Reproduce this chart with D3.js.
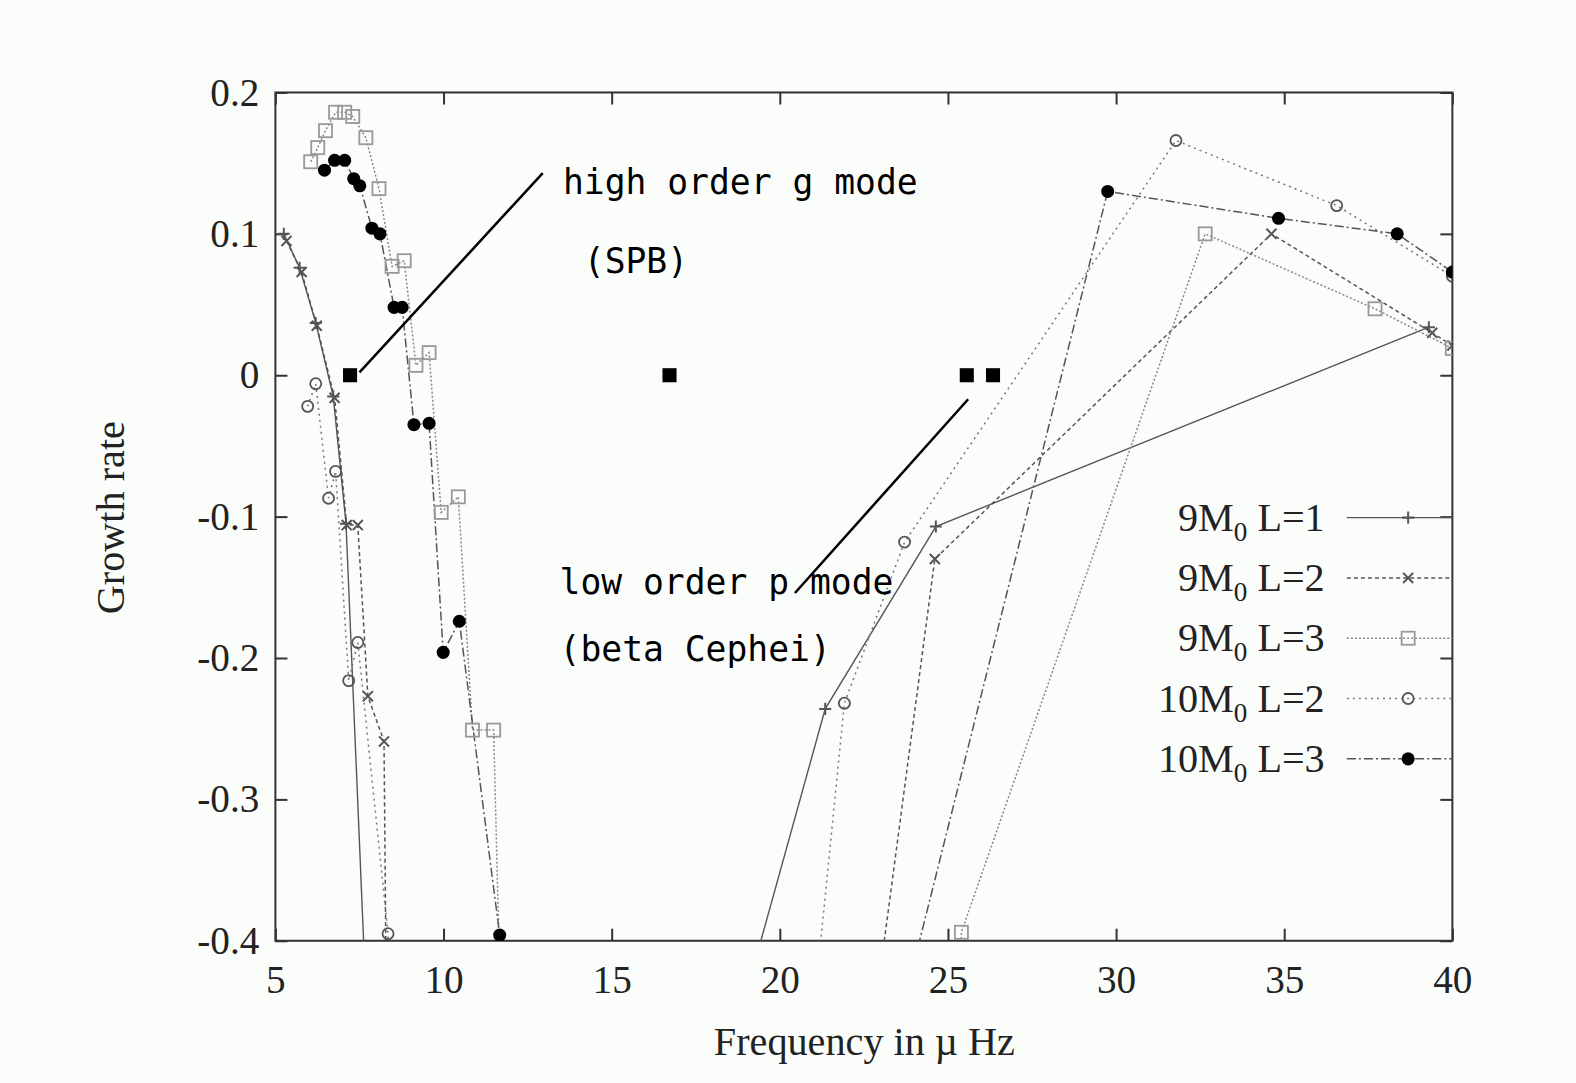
<!DOCTYPE html>
<html>
<head>
<meta charset="utf-8">
<script src="https://cdn.jsdelivr.net/npm/d3@7/dist/d3.min.js"></script>
<style>
  html, body { margin: 0; padding: 0; background: #fbfdfb; }
  svg { display: block; }
</style>
</head>
<body>
<svg id="chart" width="1576" height="1083"></svg>
<script>
// ---- data (frequency in µHz, growth rate) ----
const xTicks = [5, 10, 15, 20, 25, 30, 35, 40];
const yTicks = [-0.4, -0.3, -0.2, -0.1, 0, 0.1, 0.2];
const yTickLabels = ["-0.4", "-0.3", "-0.2", "-0.1", "0", "0.1", "0.2"];

const seriesNames = ["9M", "9M", "9M", "10M", "10M"];
const seriesL = ["1", "2", "3", "2", "3"];

const m9L1 = [[5.25,0.100],[5.72,0.076],[6.20,0.037],[6.72,-0.015],[7.10,-0.105],[7.80,-0.5],
              [18.27,-0.5],[21.35,-0.236],[24.64,-0.107],[39.30,0.034]];
const m9L2 = [[5.33,0.095],[5.78,0.073],[6.23,0.035],[6.76,-0.016],[7.12,-0.106],[7.45,-0.106],
              [7.75,-0.227],[8.23,-0.259],[8.32,-0.5],
              [22.55,-0.5],[24.61,-0.130],[34.62,0.100],[39.40,0.030],[40.0,0.021]];
const m9L3 = [[6.05,0.151],[6.26,0.161],[6.49,0.173],[6.79,0.186],[7.06,0.186],[7.30,0.183],
              [7.69,0.168],[8.08,0.132],[8.47,0.077],[8.83,0.081],[9.18,0.007],[9.57,0.016],
              [9.93,-0.097],[10.44,-0.086],[10.86,-0.251],[11.49,-0.251],[11.75,-0.5],
              [25.20,-0.5],[25.40,-0.394],[32.65,0.100],[37.70,0.047],[40.0,0.019]];
const m10L2 = [[5.96,-0.022],[6.20,-0.006],[6.58,-0.087],[6.79,-0.068],[7.18,-0.216],[7.45,-0.189],
               [8.35,-0.395],[8.50,-0.5],
               [20.80,-0.5],[21.92,-0.232],[23.71,-0.118],[31.78,0.166],[36.56,0.120],[40.0,0.070]];
const m10L3 = [[6.46,0.145],[6.76,0.152],[7.06,0.152],[7.33,0.139],[7.51,0.134],[7.87,0.104],
               [8.11,0.100],[8.53,0.048],[8.77,0.048],[9.12,-0.035],[9.57,-0.034],[9.99,-0.196],
               [10.47,-0.174],[11.67,-0.396],[11.80,-0.5],
               [23.10,-0.5],[29.75,0.130],[34.83,0.111],[38.36,0.100],[40.0,0.073]];
const zeroMarks = [[7.22,0],[16.72,0],[25.56,0],[26.34,0]];

const annotations = [
  {lines: ["high order g mode", " (SPB)"], tx: 13.55, ty: 0.128, dy: 0.056, from: [7.5, 0.002], to: [12.95, 0.143]},
  {lines: ["low order p mode", "(beta Cephei)"], tx: 13.45, ty: -0.155, dy: 0.047, from: [20.45, -0.154], to: [25.6, -0.017]}
];

// ---- layout ----
const root = d3.select("#chart").append("g").attr("transform", "scale(1.0051)");
const L = 274, R = 1445, T = 92, B = 936;
const x = d3.scaleLinear().domain([5, 40]).range([L, R]);
const y = d3.scaleLinear().domain([-0.4, 0.2]).range([B, T]);

root.append("defs").append("clipPath").attr("id", "clip")
  .append("rect").attr("x", L).attr("y", T).attr("width", R - L).attr("height", B - T);

const serif = "'Liberation Serif', 'Times New Roman', serif";
const mono = "'DejaVu Sans Mono', monospace";

// axes (inward ticks, mirrored)
const axL = root.append("g").attr("transform", `translate(${L},0)`)
  .call(d3.axisLeft(y).tickValues(yTicks).tickFormat((d, i) => yTickLabels[i]).tickSize(-12).tickSizeOuter(0).tickPadding(16));
const axR = root.append("g").attr("transform", `translate(${R},0)`)
  .call(d3.axisRight(y).tickValues(yTicks).tickFormat("").tickSize(-12).tickSizeOuter(0));
const axB = root.append("g").attr("transform", `translate(0,${B})`)
  .call(d3.axisBottom(x).tickValues(xTicks).tickFormat(d3.format("d")).tickSize(-12).tickSizeOuter(0).tickPadding(24));
const axT = root.append("g").attr("transform", `translate(0,${T})`)
  .call(d3.axisTop(x).tickValues(xTicks).tickFormat("").tickSize(-12).tickSizeOuter(0));
[axL, axR, axB, axT].forEach(a => {
  a.select(".domain").remove();
  a.selectAll(".tick line").attr("stroke", "#333").attr("stroke-width", 2);
  a.selectAll("text").attr("font-family", serif).attr("font-size", 39).attr("fill", "#222");
});

// frame
root.append("rect").attr("x", L).attr("y", T).attr("width", R - L).attr("height", B - T)
  .attr("fill", "none").attr("stroke", "#333").attr("stroke-width", 2);

// axis titles
root.append("text").attr("x", 860).attr("y", 1050).attr("text-anchor", "middle")
  .attr("font-family", serif).attr("font-size", 40).attr("fill", "#222").text("Frequency in µ Hz");
root.append("text").attr("transform", "translate(123,515) rotate(-90)").attr("text-anchor", "middle")
  .attr("font-family", serif).attr("font-size", 40).attr("fill", "#222").text("Growth rate");

// series
const styles = [
  {data: m9L1, color: "#555", width: 1.4, dash: null, marker: "plus"},
  {data: m9L2, color: "#555", width: 1.5, dash: "4,3", marker: "cross"},
  {data: m9L3, color: "#888", width: 1.5, dash: "2,2", marker: "square"},
  {data: m10L2, color: "#777", width: 1.5, dash: "2,4", marker: "circle"},
  {data: m10L3, color: "#555", width: 1.5, dash: "9,3,2,3", marker: "dot"}
];

const plot = root.append("g").attr("clip-path", "url(#clip)");
const line = d3.line().x(d => x(d[0])).y(d => y(d[1]));

function drawMarker(g, type, cx, cy, color) {
  if (type === "plus") {
    g.append("path").attr("d", `M${cx-6},${cy}H${cx+6}M${cx},${cy-6}V${cy+6}`)
      .attr("stroke", color).attr("stroke-width", 2);
  } else if (type === "cross") {
    g.append("path").attr("d", `M${cx-5},${cy-5}L${cx+5},${cy+5}M${cx-5},${cy+5}L${cx+5},${cy-5}`)
      .attr("stroke", color).attr("stroke-width", 2);
  } else if (type === "square") {
    g.append("rect").attr("x", cx - 6.5).attr("y", cy - 6.5).attr("width", 13).attr("height", 13)
      .attr("fill", "none").attr("stroke", color).attr("stroke-width", 1.8);
  } else if (type === "circle") {
    g.append("circle").attr("cx", cx).attr("cy", cy).attr("r", 5.5)
      .attr("fill", "none").attr("stroke", color).attr("stroke-width", 1.8);
  } else if (type === "dot") {
    g.append("circle").attr("cx", cx).attr("cy", cy).attr("r", 6.5).attr("fill", "#000");
  }
}
const markerColor = m => m === "dot" ? "#000" : (m === "square" ? "#999" : "#555");

styles.forEach(s => {
  plot.append("path").datum(s.data).attr("d", line)
    .attr("fill", "none").attr("stroke", s.color).attr("stroke-width", s.width)
    .attr("stroke-dasharray", s.dash);
});
styles.forEach(s => {
  const g = plot.append("g");
  s.data.forEach(d => drawMarker(g, s.marker, x(d[0]), y(d[1]), markerColor(s.marker)));
});

// zero-growth marks
plot.selectAll("rect.zero").data(zeroMarks).enter().append("rect").attr("class", "zero")
  .attr("x", d => x(d[0]) - 7).attr("y", d => y(d[1]) - 7).attr("width", 14).attr("height", 14)
  .attr("fill", "#000");

// annotations
annotations.forEach(a => {
  root.append("line").attr("x1", x(a.from[0])).attr("y1", y(a.from[1]))
    .attr("x2", x(a.to[0])).attr("y2", y(a.to[1])).attr("stroke", "#000").attr("stroke-width", 2.5);
  a.lines.forEach((t, i) => {
    root.append("text").attr("x", x(a.tx)).attr("y", y(a.ty - i * a.dy))
      .attr("font-family", mono).attr("font-size", 34.5).attr("fill", "#000")
      .attr("xml:space", "preserve").style("white-space", "pre").text(t);
  });
});

// legend
const legY0 = 515, legDy = 60;
styles.forEach((s, i) => {
  const yy = legY0 + i * legDy;
  const t = root.append("text").attr("x", 1318).attr("y", yy + 13).attr("text-anchor", "end")
    .attr("font-family", serif).attr("font-size", 40).attr("fill", "#222");
  t.append("tspan").text(seriesNames[i]);
  t.append("tspan").attr("font-size", 27).attr("dy", 10).text("0");
  t.append("tspan").attr("dy", -10).text(" L=" + seriesL[i]);
  root.append("line").attr("x1", 1340).attr("x2", 1445).attr("y1", yy).attr("y2", yy)
    .attr("stroke", s.color).attr("stroke-width", s.width).attr("stroke-dasharray", s.dash);
  drawMarker(root.append("g"), s.marker, 1401, yy, markerColor(s.marker));
});
</script>
</body>
</html>
